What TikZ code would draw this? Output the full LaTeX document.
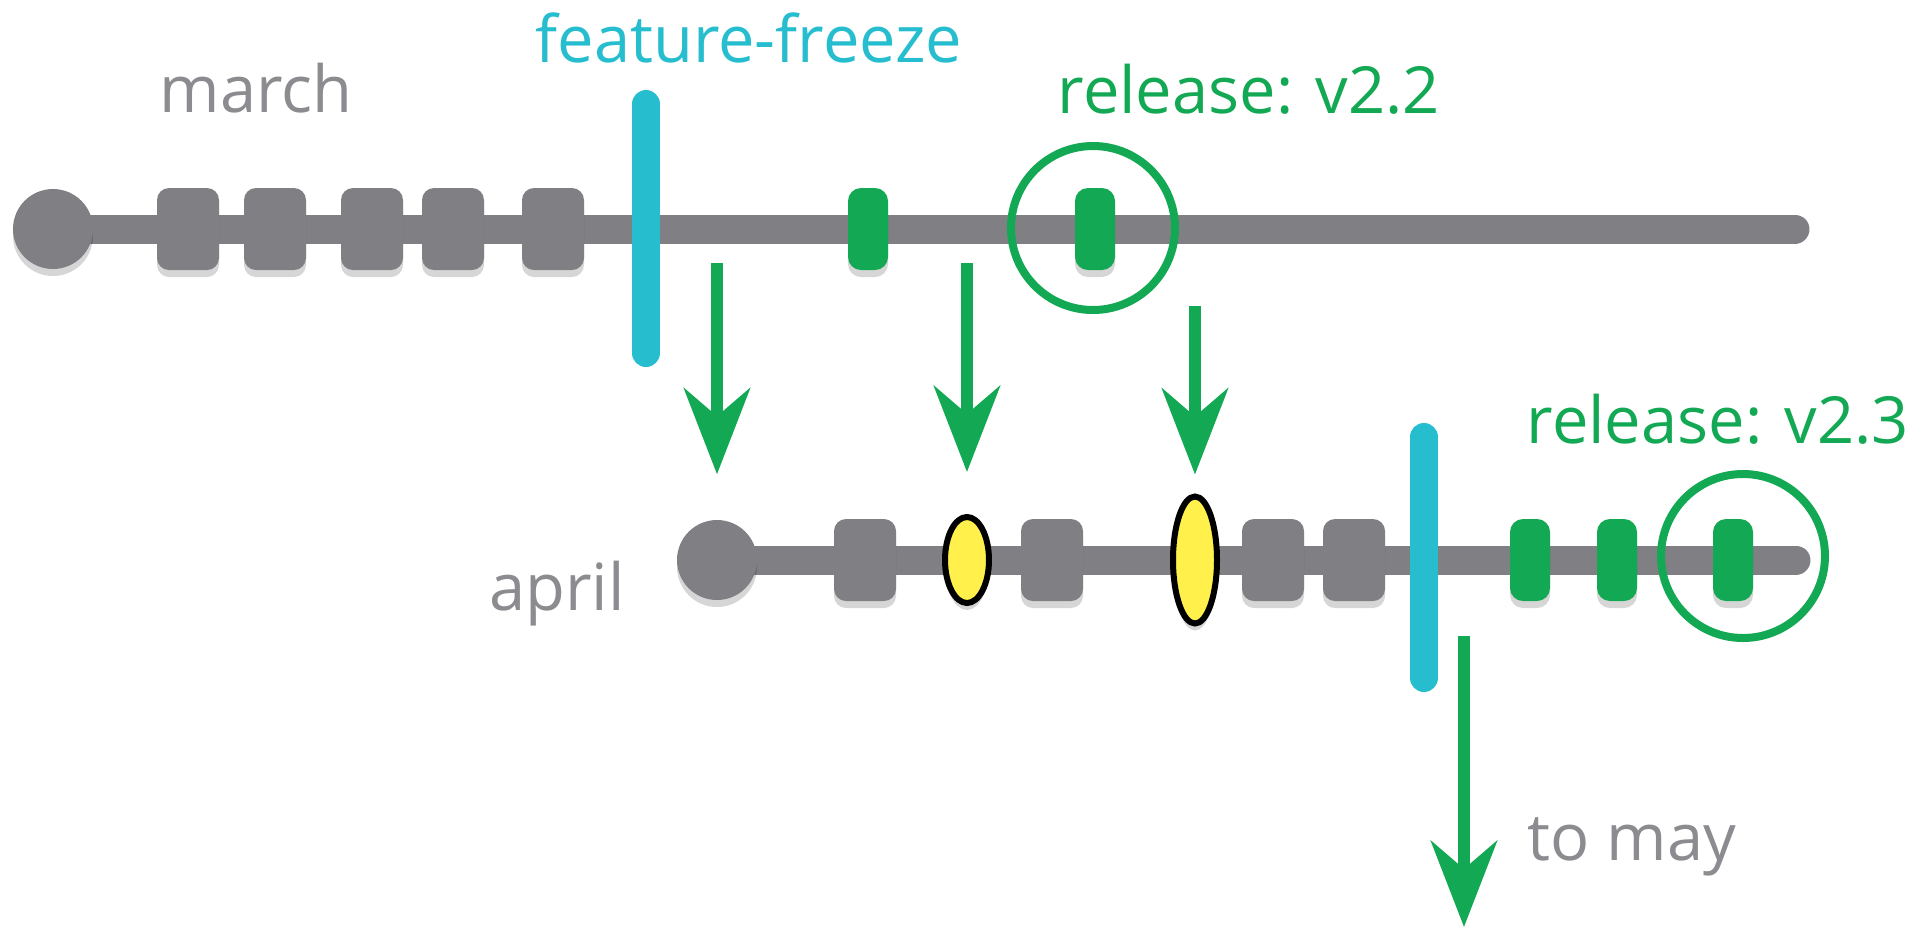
\documentclass[tikz,border=0pt]{standalone}
\usepackage{fontspec}
\setmainfont{Open Sans}
\usetikzlibrary{arrows.meta,backgrounds,shadows,shapes.geometric}

\definecolor{branchgray}{RGB}{128,128,132}
\definecolor{labelgray}{RGB}{140,140,144}
\definecolor{fixgreen}{RGB}{19,168,83}
\definecolor{freezecyan}{RGB}{38,189,207}
\definecolor{mergeyellow}{RGB}{255,240,75}

\begin{document}
\begin{tikzpicture}[scale=0.2,
  font=\fontsize{18.5}{22}\selectfont,
  soft shadow/.style={drop shadow={shadow xshift=0mm, shadow yshift=-0.7mm, fill=black, opacity=0.16}},
  branch/.style={draw=branchgray, line width=2.9mm, line cap=round},
  origin/.style={circle, fill=branchgray, minimum size=8mm, soft shadow},
  commit/.style={rectangle, rounded corners=1.2mm, fill=branchgray, minimum width=6.2mm, minimum height=8.2mm, soft shadow},
  fix/.style={rectangle, rounded corners=1.3mm, fill=fixgreen, minimum width=4mm, minimum height=8.2mm, soft shadow},
  merged/.style={ellipse, draw=black, line width=0.6mm, fill=mergeyellow, minimum width=4.4mm, soft shadow},
  ring/.style={circle, draw=fixgreen, line width=0.8mm, minimum size=16.4mm},
  freeze/.style={draw=freezecyan, line width=2.8mm, line cap=round},
  port/.style={draw=fixgreen, line width=1.2mm, -{Stealth[length=8.6mm,width=6.6mm,inset=2.8mm]}},
  gray label/.style={text=labelgray, anchor=base},
  green label/.style={text=fixgreen, anchor=base}]
\tikzstyle{every node}+=[inner sep=0pt]
\useasboundingbox (0,0) rectangle (96.05,-46.5);
% march branch
\node [origin] (m0) at (2.65,-11.45) {};
\node [commit] (m1) at (9.4,-11.45) {};
\node [commit] (m2) at (13.75,-11.45) {};
\node [commit] (m3) at (18.6,-11.45) {};
\node [commit] (m4) at (22.65,-11.45) {};
\node [commit] (m5) at (27.65,-11.45) {};
\node [fix] (m6) at (43.4,-11.45) {};
\node [fix] (v22) at (54.75,-11.45) {};
\node [ring] (v22ring) at (54.65,-11.4) {};
\coordinate (mend) at (89.75,-11.45);
\node [gray label] (marchlbl) at (12.8,-5.6) {march};
\node [green label] (v22lbl) at (62.45,-5.65) {release: v2.2};
\coordinate (ff1top) at (32.3,-5.2);
\coordinate (ff1bot) at (32.3,-17.65);
\draw [freeze] (ff1top) -- (ff1bot);
\node [text=freezecyan, anchor=base] (fflbl) at (37.45,-3.1) {feature-freeze};
% april branch
\node [origin] (a0) at (35.85,-28) {};
\node [commit] (a1) at (43.25,-28) {};
\node [merged, minimum height=8.6mm] (a2) at (48.35,-28) {};
\node [commit] (a3) at (52.6,-28) {};
\node [merged, minimum height=12.7mm] (a4) at (59.75,-28) {};
\node [commit] (a5) at (63.65,-28) {};
\node [commit] (a6) at (67.7,-28) {};
\node [fix] (a7) at (76.5,-28) {};
\node [fix] (a8) at (80.85,-28) {};
\node [fix] (v23) at (86.65,-28) {};
\node [ring] (v23ring) at (87.15,-27.8) {};
\coordinate (aend) at (89.8,-28);
\node [gray label] (aprillbl) at (27.85,-30.5) {april};
\node [green label] (v23lbl) at (85.9,-22.15) {release: v2.3};
\coordinate (ff2top) at (71.2,-21.85);
\coordinate (ff2bot) at (71.2,-33.9);
\draw [freeze] (ff2top) -- (ff2bot);
% fixes carried down
\coordinate (p1) at (35.85,-13.15);
\coordinate (p2) at (48.35,-13.15);
\coordinate (p3) at (59.75,-15.3);
\draw [port, shorten >=4.5mm] (p1) -- (a0.north);
\draw [port, shorten >=4.2mm] (p2) -- (a2.north);
\draw [port, shorten >=1.9mm] (p3) -- (a4.north);
\coordinate (p4) at (73.2,-31.8);
\coordinate (may) at (73.2,-46.35);
\draw [port] (p4) -- (may);
\node [gray label, anchor=base west] (maylbl) at (76.35,-43) {to may};
\begin{scope}[on background layer]
\draw [branch] (m0.center) -- (mend);
\draw [branch] (a0.center) -- (aend);
\end{scope}
\end{tikzpicture}
\end{document}
